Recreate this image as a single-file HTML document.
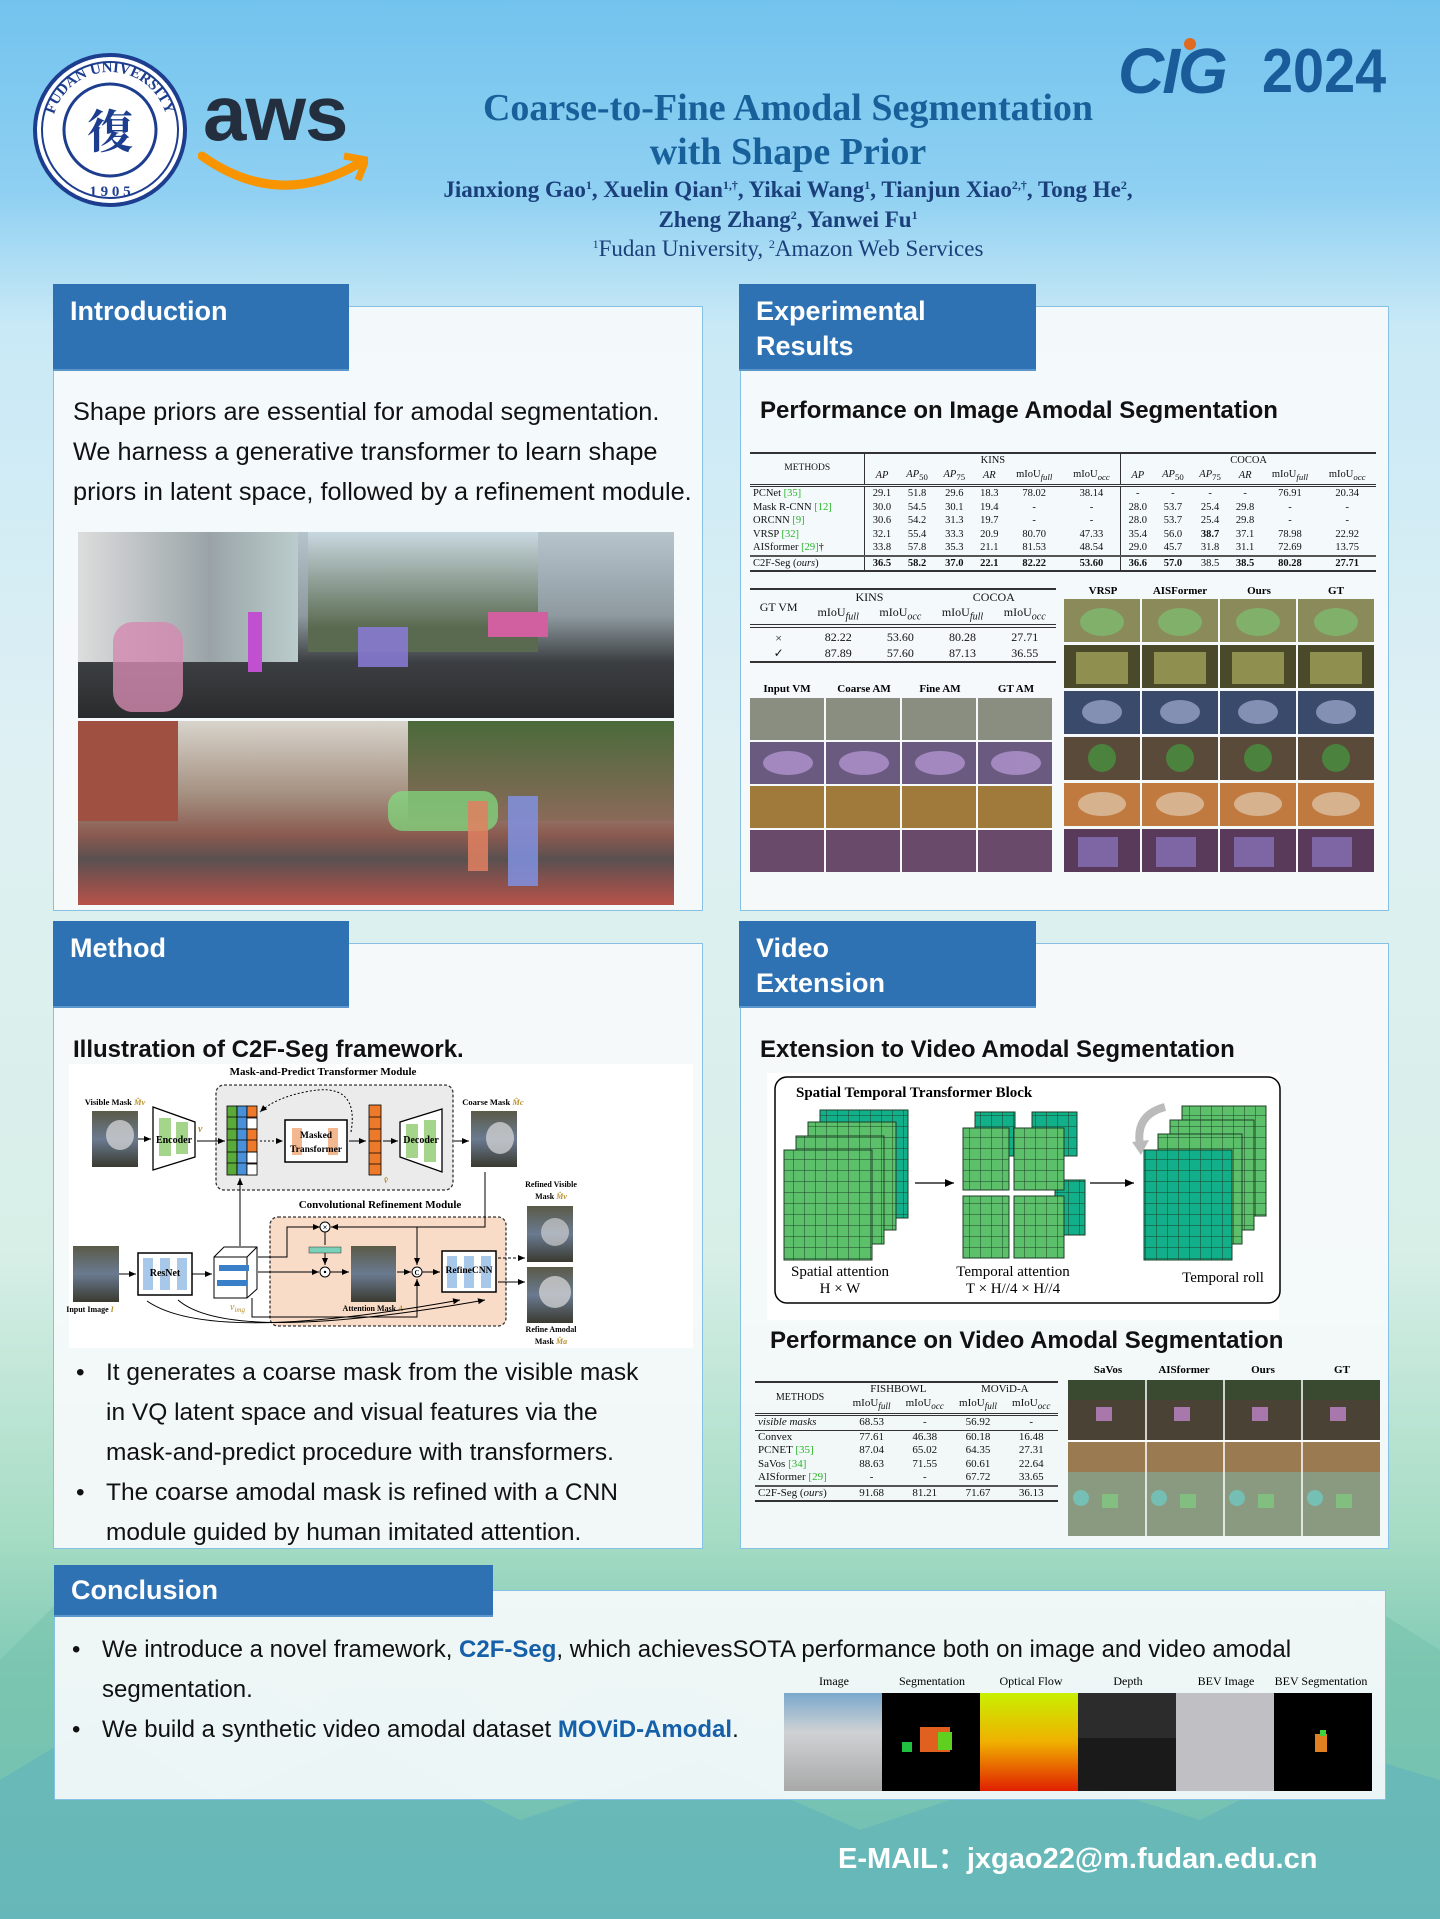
<!DOCTYPE html>
<html><head><meta charset="utf-8"><style>
*{margin:0;padding:0;box-sizing:border-box}
body{width:1440px;height:1919px;position:relative;overflow:hidden;font-family:"Liberation Sans",sans-serif;
background:linear-gradient(180deg,#72c3ee 0%,#8fd0f2 10%,#c9e9f6 17%,#dff0f3 40%,#d8efe8 65%,#a6dcc4 80%,#7cc8b4 88%,#6ab9c2 100%)}
.a{position:absolute}
.panel{position:absolute;background:rgba(246,250,251,0.93);border:1.5px solid #86c0e2}
.tab{position:absolute;background:#2e72b4;color:#fff;font-weight:bold;font-size:27px;padding:10px 17px;line-height:35px;border-bottom:2px solid #5b96cc}
.h2{position:absolute;font-weight:bold;font-size:24px;color:#111}
.body{position:absolute;font-size:24px;color:#111;line-height:40px;white-space:nowrap}
.ser{font-family:"Liberation Serif",serif}
table{border-collapse:collapse;font-family:"Liberation Serif",serif;color:#111}
td,th{font-weight:normal;padding:0 3px;text-align:center;white-space:nowrap}
.g{color:#2ab52a}
.ph{position:absolute}
sup{font-size:12px;line-height:0;vertical-align:8px}
.bl{position:relative;padding-left:30px}
.bl b.d{position:absolute;left:0;top:0;font-weight:normal}
</style></head><body>
<svg class="a" style="left:0;top:1480px" width="1440" height="439">
<path d="M0 180 L60 120 L120 200 L200 140 L300 230 L420 160 L520 260 L640 170 L760 250 L900 180 L1020 240 L1150 150 L1260 220 L1360 120 L1440 170 L1440 439 L0 439Z" fill="#78c3ad" opacity="0.6"/>
<path d="M0 300 L100 240 L220 320 L360 260 L520 340 L700 280 L860 350 L1040 290 L1200 340 L1340 270 L1440 300 L1440 439 L0 439Z" fill="#5fb2bb" opacity="0.6"/>
</svg>
<svg class="a" style="left:32px;top:52px" width="156" height="156">
<defs><path id="cp" d="M78 78 m-58 0 a58 58 0 1 1 116 0"/></defs>
<circle cx="78" cy="78" r="75" fill="#fff" stroke="#1d3d8f" stroke-width="4"/>
<circle cx="78" cy="78" r="68" fill="none" stroke="#1d3d8f" stroke-width="2"/>
<circle cx="78" cy="78" r="46" fill="none" stroke="#1d3d8f" stroke-width="3"/>
<text font-family="Liberation Serif" font-size="15" font-weight="bold" fill="#1d3d8f"><textPath href="#cp" startOffset="50%" text-anchor="middle">FUDAN UNIVERSITY</textPath></text>
<text x="78" y="144" font-family="Liberation Serif" font-size="15" font-weight="bold" fill="#1d3d8f" text-anchor="middle">1 9 0 5</text>
<text x="78" y="96" font-family="Noto Serif CJK SC,serif" font-size="46" font-weight="bold" fill="#1d3d8f" text-anchor="middle">復</text>
</svg>
<div class="a" style="left:203px;top:68px;font-size:78px;font-weight:bold;color:#232f3e;letter-spacing:-1px">aws</div>
<svg class="a" style="left:198px;top:150px" width="170" height="50"><path d="M4 6 Q80 60 160 14" stroke="#f79400" stroke-width="9" fill="none" stroke-linecap="round"/><path d="M146 6 L168 10 L160 30" stroke="#f79400" stroke-width="7" fill="none"/></svg>
<div class="a" style="left:1118px;top:34px;font-size:64px;font-weight:bold;color:#1a5c99;font-style:italic;letter-spacing:-2px">CIG</div>
<div class="a" style="left:1184px;top:38px;width:12px;height:12px;border-radius:6px;background:#e06a20"></div>
<div class="a" style="left:1262px;top:36px;font-size:62px;font-weight:bold;color:#1a5c99;transform:scaleX(0.9);transform-origin:left">2024</div>
<div class="a ser" style="left:380px;width:816px;top:86px;text-align:center;font-size:38px;font-weight:bold;color:#17609a;line-height:44px">Coarse-to-Fine Amodal Segmentation<br>with Shape Prior</div>
<div class="a ser" style="left:340px;width:896px;top:175px;text-align:center;font-size:23px;font-weight:bold;color:#1a3f7a;line-height:30px">Jianxiong Gao<sup>1</sup>, Xuelin Qian<sup>1,†</sup>, Yikai Wang<sup>1</sup>, Tianjun Xiao<sup>2,†</sup>, Tong He<sup>2</sup>,<br>Zheng Zhang<sup>2</sup>, Yanwei Fu<sup>1</sup></div>
<div class="a ser" style="left:340px;width:896px;top:236px;text-align:center;font-size:23px;color:#1a3f7a"><sup>1</sup>Fudan University, <sup>2</sup>Amazon Web Services</div>

<div class="panel" style="left:53px;top:306px;width:650px;height:605px"></div>
<div class="panel" style="left:740px;top:306px;width:649px;height:605px"></div>
<div class="panel" style="left:53px;top:943px;width:650px;height:606px"></div>
<div class="panel" style="left:740px;top:943px;width:649px;height:606px"></div>
<div class="panel" style="left:54px;top:1590px;width:1332px;height:210px"></div>
<div class="tab" style="left:53px;top:284px;width:296px;height:87px">Introduction</div>
<div class="tab" style="left:739px;top:284px;width:297px;height:87px">Experimental<br>Results</div>
<div class="tab" style="left:53px;top:921px;width:296px;height:87px">Method</div>
<div class="tab" style="left:739px;top:921px;width:297px;height:87px">Video<br>Extension</div>
<div class="tab" style="left:54px;top:1565px;width:439px;height:52px;padding-top:8px">Conclusion</div>

<div class="body" style="left:73px;top:392px;font-size:25.3px">Shape priors are essential for amodal segmentation.<br>We harness a generative transformer to learn shape<br>priors in latent space, followed by a refinement module.</div>
<div class="ph" style="left:78px;top:532px;width:596px;height:186px;background:linear-gradient(180deg,#b8c4cc 0%,#8e9aa0 45%,#3c3f42 70%,#2a2b2c 100%)">
<div class="a" style="left:0;top:0;width:220px;height:130px;background:linear-gradient(90deg,#ddd 0%,#9aa4a8 60%,#bcc)"></div>
<div class="a" style="left:230px;top:0;width:230px;height:120px;background:linear-gradient(180deg,#c8d8e0,#5a6a50 80%)"></div>
<div class="a" style="left:35px;top:90px;width:70px;height:90px;background:#d48ab0;opacity:.8;border-radius:20px"></div>
<div class="a" style="left:280px;top:95px;width:50px;height:40px;background:#8a7ad8;opacity:.85"></div>
<div class="a" style="left:170px;top:80px;width:14px;height:60px;background:#c050d0"></div>
<div class="a" style="left:410px;top:80px;width:60px;height:25px;background:#d060a0"></div>
</div>
<div class="ph" style="left:78px;top:721px;width:596px;height:184px;background:linear-gradient(180deg,#d8d4cc 0%,#a49080 40%,#8a5a50 62%,#5a5050 75%,#b8524a 100%)">
<div class="a" style="left:0;top:0;width:100px;height:100px;background:#a05040"></div>
<div class="a" style="left:330px;top:0;width:266px;height:100px;background:linear-gradient(180deg,#4a6a3a,#8a6a5a)"></div>
<div class="a" style="left:310px;top:70px;width:110px;height:40px;background:#80e080;opacity:.7;border-radius:15px"></div>
<div class="a" style="left:430px;top:75px;width:30px;height:90px;background:#8090e0;opacity:.85"></div>
<div class="a" style="left:390px;top:80px;width:20px;height:70px;background:#e08060;opacity:.85"></div>
</div>

<div class="h2" style="left:760px;top:397px">Performance on Image Amodal Segmentation</div>
<table class="a" style="left:750px;top:452px;width:626px;font-size:10.5px;border-top:2px solid #333;border-bottom:2px solid #333;line-height:13.5px">
<tr><th rowspan="2" style="font-size:9.5px;border-right:1px solid #333">METHODS</th><th colspan="6">KINS</th><th colspan="6" style="border-left:1px solid #333">COCOA</th></tr>
<tr style="border-bottom:3px double #333"><td><i>AP</i></td><td><i>AP</i><sub>50</sub></td><td><i>AP</i><sub>75</sub></td><td><i>AR</i></td><td>mIoU<sub><i>full</i></sub></td><td>mIoU<sub><i>occ</i></sub></td><td style="border-left:1px solid #333"><i>AP</i></td><td><i>AP</i><sub>50</sub></td><td><i>AP</i><sub>75</sub></td><td><i>AR</i></td><td>mIoU<sub><i>full</i></sub></td><td>mIoU<sub><i>occ</i></sub></td></tr>
<tr><td style="text-align:left;border-right:1px solid #333">PCNet <span class="g">[35]</span></td><td>29.1</td><td>51.8</td><td>29.6</td><td>18.3</td><td>78.02</td><td>38.14</td><td style="border-left:1px solid #333">-</td><td>-</td><td>-</td><td>-</td><td>76.91</td><td>20.34</td></tr>
<tr><td style="text-align:left;border-right:1px solid #333">Mask R-CNN <span class="g">[12]</span></td><td>30.0</td><td>54.5</td><td>30.1</td><td>19.4</td><td>-</td><td>-</td><td style="border-left:1px solid #333">28.0</td><td>53.7</td><td>25.4</td><td>29.8</td><td>-</td><td>-</td></tr>
<tr><td style="text-align:left;border-right:1px solid #333">ORCNN <span class="g">[9]</span></td><td>30.6</td><td>54.2</td><td>31.3</td><td>19.7</td><td>-</td><td>-</td><td style="border-left:1px solid #333">28.0</td><td>53.7</td><td>25.4</td><td>29.8</td><td>-</td><td>-</td></tr>
<tr><td style="text-align:left;border-right:1px solid #333">VRSP <span class="g">[32]</span></td><td>32.1</td><td>55.4</td><td>33.3</td><td>20.9</td><td>80.70</td><td>47.33</td><td style="border-left:1px solid #333">35.4</td><td>56.0</td><td><b>38.7</b></td><td>37.1</td><td>78.98</td><td>22.92</td></tr>
<tr style="border-bottom:2px solid #555"><td style="text-align:left;border-right:1px solid #333">AISformer <span class="g">[29]</span>†</td><td>33.8</td><td>57.8</td><td>35.3</td><td>21.1</td><td>81.53</td><td>48.54</td><td style="border-left:1px solid #333">29.0</td><td>45.7</td><td>31.8</td><td>31.1</td><td>72.69</td><td>13.75</td></tr>
<tr style="font-weight:bold"><td style="text-align:left;border-right:1px solid #333;font-weight:normal">C2F-Seg (<i>ours</i>)</td><td><b>36.5</b></td><td><b>58.2</b></td><td><b>37.0</b></td><td><b>22.1</b></td><td><b>82.22</b></td><td><b>53.60</b></td><td style="border-left:1px solid #333"><b>36.6</b></td><td><b>57.0</b></td><td>38.5</td><td><b>38.5</b></td><td><b>80.28</b></td><td><b>27.71</b></td></tr>
</table>
<table class="a" style="left:750px;top:588px;width:306px;font-size:12px;border-top:2px solid #333;border-bottom:2px solid #333;line-height:15px">
<tr><th rowspan="2">GT VM</th><th colspan="2">KINS</th><th colspan="2">COCOA</th></tr>
<tr style="border-bottom:4px double #333"><td>mIoU<sub><i>full</i></sub></td><td>mIoU<sub><i>occ</i></sub></td><td>mIoU<sub><i>full</i></sub></td><td>mIoU<sub><i>occ</i></sub></td></tr>
<tr><td style="padding-top:3px">×</td><td>82.22</td><td>53.60</td><td>80.28</td><td>27.71</td></tr>
<tr style="font-weight:bold"><td>✓</td><td>87.89</td><td>57.60</td><td>87.13</td><td>36.55</td></tr>
</table>
<svg class="a" style="left:748px;top:680px" width="310" height="194">
<g font-family="Liberation Serif" font-size="11" font-weight="bold" text-anchor="middle"><text x="39" y="12">Input VM</text><text x="116" y="12">Coarse AM</text><text x="192" y="12">Fine AM</text><text x="268" y="12">GT AM</text></g>
<g>
<rect x="2" y="18" width="74" height="42" fill="#8a8e80"/><rect x="78" y="18" width="74" height="42" fill="#8a8e80"/><rect x="154" y="18" width="74" height="42" fill="#8a8e80"/><rect x="230" y="18" width="74" height="42" fill="#8a8e80"/>
<rect x="2" y="62" width="74" height="42" fill="#6a5a80"/><rect x="78" y="62" width="74" height="42" fill="#6a5a80"/><rect x="154" y="62" width="74" height="42" fill="#6a5a80"/><rect x="230" y="62" width="74" height="42" fill="#6a5a80"/>
<rect x="2" y="106" width="74" height="42" fill="#a07a3a"/><rect x="78" y="106" width="74" height="42" fill="#a07a3a"/><rect x="154" y="106" width="74" height="42" fill="#a07a3a"/><rect x="230" y="106" width="74" height="42" fill="#a07a3a"/>
<rect x="2" y="150" width="74" height="42" fill="#6a4a6a"/><rect x="78" y="150" width="74" height="42" fill="#6a4a6a"/><rect x="154" y="150" width="74" height="42" fill="#6a4a6a"/><rect x="230" y="150" width="74" height="42" fill="#6a4a6a"/></g>
<g fill="#c8a8e8" opacity=".6"><ellipse cx="40" cy="83" rx="25" ry="12"/><ellipse cx="116" cy="83" rx="25" ry="12"/><ellipse cx="192" cy="83" rx="25" ry="12"/><ellipse cx="268" cy="83" rx="25" ry="12"/></g>
</svg>
<svg class="a" style="left:1064px;top:582px" width="312" height="294">
<g font-family="Liberation Serif" font-size="11" font-weight="bold" text-anchor="middle"><text x="39" y="12">VRSP</text><text x="116" y="12">AISFormer</text><text x="195" y="12">Ours</text><text x="272" y="12">GT</text></g>
<g>
<rect x="0" y="17" width="76" height="43" fill="#8a8a5a"/><rect x="78" y="17" width="76" height="43" fill="#8a8a5a"/><rect x="156" y="17" width="76" height="43" fill="#8a8a5a"/><rect x="234" y="17" width="76" height="43" fill="#8a8a5a"/>
<rect x="0" y="63" width="76" height="43" fill="#4a4a2a"/><rect x="78" y="63" width="76" height="43" fill="#4a4a2a"/><rect x="156" y="63" width="76" height="43" fill="#4a4a2a"/><rect x="234" y="63" width="76" height="43" fill="#4a4a2a"/>
<rect x="0" y="109" width="76" height="43" fill="#3a4a6a"/><rect x="78" y="109" width="76" height="43" fill="#3a4a6a"/><rect x="156" y="109" width="76" height="43" fill="#3a4a6a"/><rect x="234" y="109" width="76" height="43" fill="#3a4a6a"/>
<rect x="0" y="155" width="76" height="43" fill="#5a4a3a"/><rect x="78" y="155" width="76" height="43" fill="#5a4a3a"/><rect x="156" y="155" width="76" height="43" fill="#5a4a3a"/><rect x="234" y="155" width="76" height="43" fill="#5a4a3a"/>
<rect x="0" y="201" width="76" height="43" fill="#c07a40"/><rect x="78" y="201" width="76" height="43" fill="#c07a40"/><rect x="156" y="201" width="76" height="43" fill="#c07a40"/><rect x="234" y="201" width="76" height="43" fill="#c07a40"/>
<rect x="0" y="247" width="76" height="43" fill="#5a3a5a"/><rect x="78" y="247" width="76" height="43" fill="#5a3a5a"/><rect x="156" y="247" width="76" height="43" fill="#5a3a5a"/><rect x="234" y="247" width="76" height="43" fill="#5a3a5a"/></g>
<g opacity=".55"><ellipse cx="38" cy="40" rx="22" ry="14" fill="#7ad07a"/><ellipse cx="116" cy="40" rx="22" ry="14" fill="#7ad07a"/><ellipse cx="194" cy="40" rx="22" ry="14" fill="#7ad07a"/><ellipse cx="272" cy="40" rx="22" ry="14" fill="#7ad07a"/>
<rect x="12" y="70" width="52" height="32" fill="#c8c870"/><rect x="90" y="70" width="52" height="32" fill="#c8c870"/><rect x="168" y="70" width="52" height="32" fill="#c8c870"/><rect x="246" y="70" width="52" height="32" fill="#c8c870"/>
<ellipse cx="38" cy="130" rx="20" ry="12" fill="#c0c8f0"/><ellipse cx="116" cy="130" rx="20" ry="12" fill="#c0c8f0"/><ellipse cx="194" cy="130" rx="20" ry="12" fill="#c0c8f0"/><ellipse cx="272" cy="130" rx="20" ry="12" fill="#c0c8f0"/>
<circle cx="38" cy="176" r="14" fill="#40b040"/><circle cx="116" cy="176" r="14" fill="#40b040"/><circle cx="194" cy="176" r="14" fill="#40b040"/><circle cx="272" cy="176" r="14" fill="#40b040"/>
<ellipse cx="38" cy="222" rx="24" ry="12" fill="#e8e0d0"/><ellipse cx="116" cy="222" rx="24" ry="12" fill="#e8e0d0"/><ellipse cx="194" cy="222" rx="24" ry="12" fill="#e8e0d0"/><ellipse cx="272" cy="222" rx="24" ry="12" fill="#e8e0d0"/>
<rect x="14" y="255" width="40" height="30" fill="#9a8ae0"/><rect x="92" y="255" width="40" height="30" fill="#9a8ae0"/><rect x="170" y="255" width="40" height="30" fill="#9a8ae0"/><rect x="248" y="255" width="40" height="30" fill="#9a8ae0"/></g>
</svg>

<div class="h2" style="left:73px;top:1036px">Illustration of C2F-Seg framework.</div>
<svg class="a" style="left:60px;top:1060px" width="640" height="290" font-family="Liberation Serif" font-weight="bold">
<defs><marker id="ar" markerWidth="8" markerHeight="8" refX="7" refY="4" orient="auto"><path d="M0 1 L7 4 L0 7Z" fill="#000"/></marker>
<linearGradient id="ph" x1="0" y1="0" x2="0" y2="1"><stop offset="0" stop-color="#5a5a48"/><stop offset=".5" stop-color="#6a7a90"/><stop offset="1" stop-color="#3a3a30"/></linearGradient></defs>
<rect x="9" y="4" width="624" height="284" fill="#fff"/>
<text x="263" y="15" font-size="11" text-anchor="middle">Mask-and-Predict Transformer Module</text>
<rect x="156" y="25" width="237" height="105" rx="8" fill="#ebebeb" stroke="#333" stroke-dasharray="3 2" stroke-width="1.3"/>
<text x="55" y="45" font-size="8.5" text-anchor="middle">Visible Mask <tspan fill="#b89030" font-style="italic">M̂v</tspan></text>
<rect x="32" y="51" width="46" height="56" fill="url(#ph)"/><ellipse cx="60" cy="75" rx="14" ry="15" fill="#ddd" opacity=".7"/>
<path d="M93 47 L135 62 L135 97 L93 110Z" fill="#fff" stroke="#000" stroke-width="1.3"/>
<rect x="99" y="58" width="12" height="38" fill="#a5d58a"/><rect x="116" y="62" width="12" height="32" fill="#a5d58a"/>
<text x="114" y="83" font-size="10" text-anchor="middle">Encoder</text>
<text x="138" y="72" font-size="10" font-style="italic" fill="#b89030">v</text>
<line x1="78" y1="79" x2="91" y2="79" stroke="#000" marker-end="url(#ar)"/>
<line x1="137" y1="81" x2="165" y2="81" stroke="#000" marker-end="url(#ar)"/>
<g stroke="#000" stroke-width=".8"><rect x="167" y="46" width="10" height="69" fill="#5aaa3a"/><rect x="177" y="46" width="10" height="69" fill="#4a90d8"/><rect x="187" y="46" width="10" height="69" fill="#ec7a2a"/>
<rect x="187" y="58" width="10" height="11" fill="#fff"/><rect x="187" y="92" width="10" height="11" fill="#fff"/><rect x="187" y="104" width="10" height="11" fill="#fff"/>
<path d="M167 57 H197 M167 69 H197 M167 80 H197 M167 92 H197 M167 103 H197" fill="none"/></g>
<line x1="200" y1="81" x2="223" y2="81" stroke="#000" stroke-dasharray="2 2" marker-end="url(#ar)"/>
<rect x="225" y="60" width="62" height="42" fill="#fff" stroke="#000" stroke-width="1.5"/>
<rect x="232" y="68" width="10" height="27" fill="#f4b890"/><rect x="268" y="68" width="10" height="27" fill="#f4b890"/>
<text x="256" y="78" font-size="9.5" text-anchor="middle">Masked</text><text x="256" y="92" font-size="9.5" text-anchor="middle">Transformer</text>
<path d="M291 72 Q300 20 245 32 Q215 38 200 52" fill="none" stroke="#000" stroke-dasharray="2 2" marker-end="url(#ar)"/>
<line x1="289" y1="81" x2="306" y2="81" stroke="#000" marker-end="url(#ar)"/>
<g stroke="#000" stroke-width=".8"><rect x="309" y="45" width="12" height="70" fill="#ec7a2a"/><path d="M309 57 H321 M309 69 H321 M309 81 H321 M309 93 H321 M309 104 H321"/></g>
<text x="324" y="123" font-size="9" fill="#b89030" font-style="italic">v̂</text>
<line x1="323" y1="81" x2="338" y2="81" stroke="#000" marker-end="url(#ar)"/>
<path d="M340 62 L382 49 L382 112 L340 97Z" fill="#fff" stroke="#000" stroke-width="1.3"/>
<rect x="346" y="64" width="12" height="34" fill="#a5d58a"/><rect x="364" y="60" width="12" height="42" fill="#a5d58a"/>
<text x="361" y="83" font-size="10" text-anchor="middle">Decoder</text>
<line x1="394" y1="81" x2="409" y2="81" stroke="#000" marker-end="url(#ar)"/>
<text x="433" y="45" font-size="8.5" text-anchor="middle">Coarse Mask <tspan fill="#b89030" font-style="italic">M̂c</tspan></text>
<rect x="411" y="51" width="46" height="56" fill="url(#ph)"/><ellipse cx="440" cy="78" rx="14" ry="16" fill="#ddd" opacity=".7"/>
<text x="320" y="148" font-size="11" text-anchor="middle">Convolutional Refinement Module</text>
<rect x="210" y="157" width="236" height="109" rx="8" fill="#f9dcc8" stroke="#333" stroke-dasharray="3 2" stroke-width="1.3"/>
<rect x="13" y="186" width="46" height="56" fill="url(#ph)"/>
<text x="30" y="252" font-size="8" text-anchor="middle">Input Image <tspan fill="#b89030" font-style="italic">I</tspan></text>
<line x1="59" y1="214" x2="76" y2="214" stroke="#000" marker-end="url(#ar)"/>
<rect x="78" y="193" width="54" height="42" fill="#fff" stroke="#000" stroke-width="1.5"/>
<rect x="83" y="198" width="10" height="32" fill="#a8c8ea"/><rect x="100" y="198" width="10" height="32" fill="#a8c8ea"/><rect x="117" y="198" width="10" height="32" fill="#a8c8ea"/>
<text x="105" y="216" font-size="10" text-anchor="middle">ResNet</text>
<line x1="132" y1="214" x2="152" y2="214" stroke="#000" marker-end="url(#ar)"/>
<path d="M154 197 L164 187 L197 187 L197 229 L187 238 L154 238Z M154 197 H187 V238 M187 197 L197 187" fill="#fff" stroke="#000"/>
<rect x="159" y="205" width="30" height="6" fill="#3a80c8"/><rect x="157" y="220" width="30" height="6" fill="#3a80c8"/>
<text x="170" y="250" font-size="10" fill="#b89030" font-style="italic" font-weight="normal">v<tspan font-size="7" dy="2">img</tspan></text>
<line x1="180" y1="186" x2="180" y2="118" stroke="#000" marker-end="url(#ar)"/>
<polyline points="198,197 227,197 227,167 260,167" fill="none" stroke="#000" marker-end="url(#ar)"/>
<polyline points="425,112 425,167 271,167" fill="none" stroke="#000" marker-end="url(#ar)"/>
<circle cx="265" cy="167" r="5" fill="#fff" stroke="#000"/><text x="265" y="170" font-size="8" text-anchor="middle">×</text>
<rect x="249" y="187" width="32" height="6" fill="#7ad0b8" stroke="#333" stroke-width=".5"/>
<line x1="265" y1="172" x2="265" y2="185" stroke="#000"/><line x1="265" y1="193" x2="265" y2="205" stroke="#000" marker-end="url(#ar)"/>
<line x1="198" y1="212" x2="259" y2="212" stroke="#000" marker-end="url(#ar)"/>
<circle cx="265" cy="212" r="5" fill="#fff" stroke="#000"/><circle cx="265" cy="212" r="1.2"/>
<line x1="270" y1="212" x2="289" y2="212" stroke="#000" marker-end="url(#ar)"/>
<rect x="291" y="186" width="45" height="56" fill="url(#ph)"/>
<text x="313" y="251" font-size="8" text-anchor="middle">Attention Mask <tspan fill="#b89030" font-style="italic">A</tspan></text>
<line x1="337" y1="212" x2="351" y2="212" stroke="#000" marker-end="url(#ar)"/>
<line x1="357" y1="167" x2="357" y2="205" stroke="#000" marker-end="url(#ar)"/>
<circle cx="357" cy="212" r="5" fill="#fff" stroke="#000"/><text x="357" y="215" font-size="7" text-anchor="middle">C</text>
<polyline points="192,238 192,257 357,257 357,219" fill="none" stroke="#000" marker-end="url(#ar)"/>
<line x1="362" y1="212" x2="380" y2="212" stroke="#000" marker-end="url(#ar)"/>
<rect x="382" y="191" width="54" height="41" fill="#fff" stroke="#000" stroke-width="1.5"/>
<rect x="387" y="196" width="10" height="32" fill="#a8c8ea"/><rect x="404" y="196" width="10" height="32" fill="#a8c8ea"/><rect x="421" y="196" width="10" height="32" fill="#a8c8ea"/>
<text x="409" y="213" font-size="9.5" text-anchor="middle">RefineCNN</text>
<path d="M87 241 Q150 285 400 240" fill="none" stroke="#000" marker-end="url(#ar)"/>
<path d="M118 240 Q170 285 425 240" fill="none" stroke="#000" marker-end="url(#ar)"/>
<line x1="438" y1="198" x2="465" y2="198" stroke="#000" stroke-dasharray="3 2" marker-end="url(#ar)"/>
<line x1="438" y1="222" x2="465" y2="222" stroke="#000" marker-end="url(#ar)"/>
<text x="491" y="127" font-size="8" text-anchor="middle">Refined Visible</text><text x="491" y="139" font-size="8" text-anchor="middle">Mask <tspan fill="#b89030" font-style="italic">M̂v</tspan></text>
<rect x="467" y="146" width="46" height="56" fill="url(#ph)"/><ellipse cx="495" cy="172" rx="14" ry="14" fill="#ddd" opacity=".6"/>
<rect x="467" y="207" width="46" height="56" fill="url(#ph)"/><ellipse cx="495" cy="232" rx="16" ry="16" fill="#ddd" opacity=".7"/>
<text x="491" y="272" font-size="8" text-anchor="middle">Refine Amodal</text><text x="491" y="284" font-size="8" text-anchor="middle">Mask <tspan fill="#b89030" font-style="italic">M̂a</tspan></text>
</svg>
<div class="body" style="left:76px;top:1353px;font-size:24.5px">
<div class="bl"><b class="d">•</b>It generates a coarse mask from the visible mask<br>in VQ latent space and visual features via the<br>mask-and-predict procedure with transformers.</div>
<div class="bl"><b class="d">•</b>The coarse amodal mask is refined with a CNN<br>module guided by human imitated attention.</div></div>

<div class="h2" style="left:760px;top:1036px">Extension to Video Amodal Segmentation</div>
<svg class="a" style="left:760px;top:1060px" width="600" height="260" font-family="Liberation Serif">
<defs><pattern id="gp" width="11" height="11" patternUnits="userSpaceOnUse"><rect width="11" height="11" fill="#5cc06a"/><path d="M0 0 H11 M0 0 V11" stroke="#1e3e26" stroke-width="1"/></pattern>
<pattern id="tp" width="11" height="11" patternUnits="userSpaceOnUse"><rect width="11" height="11" fill="#12b08a"/><path d="M0 0 H11 M0 0 V11" stroke="#1e3e26" stroke-width="1"/></pattern>
<marker id="ar2" markerWidth="8" markerHeight="8" refX="7" refY="4" orient="auto"><path d="M0 1 L7 4 L0 7Z" fill="#000"/></marker></defs>
<rect x="7" y="13" width="512" height="247" fill="#fff"/>
<rect x="15" y="17" width="505" height="226" rx="12" fill="#fff" stroke="#000" stroke-width="1.5"/>
<text x="36" y="37" font-size="15" font-weight="bold">Spatial Temporal Transformer Block</text>
<g stroke="#1e3e26"><rect x="60" y="50" width="88" height="108" fill="url(#tp)"/><rect x="48" y="62" width="88" height="108" fill="url(#gp)"/><rect x="36" y="76" width="88" height="108" fill="url(#gp)"/><rect x="24" y="90" width="88" height="110" fill="url(#gp)"/>
<rect x="215" y="52" width="40" height="44" fill="url(#tp)"/><rect x="272" y="52" width="45" height="44" fill="url(#tp)"/>
<rect x="295" y="120" width="30" height="55" fill="url(#tp)"/>
<rect x="203" y="68" width="46" height="62" fill="url(#gp)"/><rect x="254" y="68" width="50" height="62" fill="url(#gp)"/>
<rect x="203" y="136" width="46" height="62" fill="url(#gp)"/><rect x="254" y="136" width="50" height="62" fill="url(#gp)"/>
<rect x="422" y="46" width="84" height="110" fill="url(#gp)"/><rect x="410" y="60" width="84" height="110" fill="url(#gp)"/><rect x="398" y="74" width="84" height="110" fill="url(#gp)"/><rect x="384" y="90" width="88" height="110" fill="url(#tp)"/></g>
<line x1="155" y1="123" x2="194" y2="123" stroke="#000" stroke-width="1.3" marker-end="url(#ar2)"/>
<line x1="330" y1="123" x2="374" y2="123" stroke="#000" stroke-width="1.3" marker-end="url(#ar2)"/>
<path d="M405 47 Q375 55 380 85" fill="none" stroke="#bbb" stroke-width="8"/><path d="M372 82 L381 95 L389 80Z" fill="#bbb"/>
<g font-size="15" text-anchor="middle"><text x="80" y="216">Spatial attention</text><text x="80" y="233">H × W</text>
<text x="253" y="216">Temporal attention</text><text x="253" y="233">T × H//4 × H//4</text><text x="463" y="222">Temporal roll</text></g>
</svg>
<div class="h2" style="left:770px;top:1327px">Performance on Video Amodal Segmentation</div>
<table class="a" style="left:755px;top:1381px;width:303px;font-size:11px;border-top:2px solid #333;border-bottom:2px solid #333;line-height:13.5px">
<tr><th rowspan="2" style="font-size:10px">METHODS</th><th colspan="2">FISHBOWL</th><th colspan="2">MOViD-A</th></tr>
<tr style="border-bottom:3px double #333"><td>mIoU<sub><i>full</i></sub></td><td>mIoU<sub><i>occ</i></sub></td><td>mIoU<sub><i>full</i></sub></td><td>mIoU<sub><i>occ</i></sub></td></tr>
<tr style="border-bottom:1px solid #333"><td style="text-align:left"><i>visible masks</i></td><td>68.53</td><td>-</td><td>56.92</td><td>-</td></tr>
<tr><td style="text-align:left">Convex</td><td>77.61</td><td>46.38</td><td>60.18</td><td>16.48</td></tr>
<tr><td style="text-align:left">PCNET <span class="g">[35]</span></td><td>87.04</td><td>65.02</td><td>64.35</td><td>27.31</td></tr>
<tr><td style="text-align:left">SaVos <span class="g">[34]</span></td><td>88.63</td><td>71.55</td><td>60.61</td><td>22.64</td></tr>
<tr style="border-bottom:2px solid #555"><td style="text-align:left">AISformer <span class="g">[29]</span></td><td>-</td><td>-</td><td>67.72</td><td>33.65</td></tr>
<tr style="font-weight:bold"><td style="text-align:left;font-weight:normal">C2F-Seg (<i>ours</i>)</td><td>91.68</td><td>81.21</td><td>71.67</td><td>36.13</td></tr>
</table>
<svg class="a" style="left:1066px;top:1362px" width="314" height="175">
<g font-family="Liberation Serif" font-size="11" font-weight="bold" text-anchor="middle"><text x="42" y="11">SaVos</text><text x="118" y="11">AISformer</text><text x="197" y="11">Ours</text><text x="276" y="11">GT</text></g>
<rect x="2" y="18" width="312" height="60" fill="#4a4234"/><rect x="2" y="18" width="312" height="20" fill="#3a4a30"/>
<rect x="2" y="80" width="312" height="94" fill="#8a9a80"/><rect x="2" y="80" width="312" height="30" fill="#9a7a50"/>
<g stroke="#fff" stroke-width="1.5"><line x1="80" y1="18" x2="80" y2="174"/><line x1="158" y1="18" x2="158" y2="174"/><line x1="236" y1="18" x2="236" y2="174"/><line x1="2" y1="79" x2="314" y2="79"/></g>
<g fill="#d090e0" opacity=".7"><rect x="30" y="45" width="16" height="14"/><rect x="108" y="45" width="16" height="14"/><rect x="186" y="45" width="16" height="14"/><rect x="264" y="45" width="16" height="14"/></g>
<g fill="#70c8c0" opacity=".8"><circle cx="15" cy="136" r="8"/><circle cx="93" cy="136" r="8"/><circle cx="171" cy="136" r="8"/><circle cx="249" cy="136" r="8"/></g>
<g fill="#80c880" opacity=".8"><rect x="36" y="132" width="16" height="14"/><rect x="114" y="132" width="16" height="14"/><rect x="192" y="132" width="16" height="14"/><rect x="270" y="132" width="16" height="14"/></g>
</svg>

<div class="body" style="left:72px;top:1630px;font-size:24px">
<div class="bl"><b class="d">•</b>We introduce a novel framework, <b style="color:#1560a8">C2F-Seg</b>, which achievesSOTA performance both on image and video amodal<br>segmentation.</div>
<div class="bl"><b class="d">•</b>We build a synthetic video amodal dataset <b style="color:#1560a8">MOViD-Amodal</b>.</div></div>
<svg class="a" style="left:780px;top:1672px" width="600" height="122" font-family="Liberation Serif">
<g font-size="12" text-anchor="middle"><text x="54" y="13">Image</text><text x="152" y="13">Segmentation</text><text x="251" y="13">Optical Flow</text><text x="348" y="13">Depth</text><text x="446" y="13">BEV Image</text><text x="541" y="13">BEV Segmentation</text></g>
<defs><linearGradient id="im" x1="0" y1="0" x2="0" y2="1"><stop offset="0" stop-color="#7aa8cc"/><stop offset=".4" stop-color="#cfd2d4"/><stop offset="1" stop-color="#a8a8a8"/></linearGradient>
<linearGradient id="of" x1="0" y1="0" x2="0" y2="1"><stop offset="0" stop-color="#c8f000"/><stop offset=".5" stop-color="#f0b000"/><stop offset="1" stop-color="#e02000"/></linearGradient></defs>
<rect x="4" y="21" width="98" height="98" fill="url(#im)"/>
<rect x="102" y="21" width="98" height="98" fill="#000"/><rect x="140" y="55" width="30" height="25" fill="#e06020"/><rect x="122" y="70" width="10" height="10" fill="#20c040"/><rect x="158" y="60" width="14" height="18" fill="#60d020"/>
<rect x="200" y="21" width="98" height="98" fill="url(#of)"/>
<rect x="298" y="21" width="98" height="98" fill="#1a1a1a"/><rect x="298" y="21" width="98" height="45" fill="#2c2c2c"/>
<rect x="396" y="21" width="98" height="98" fill="#c0c0c4"/>
<rect x="494" y="21" width="98" height="98" fill="#000"/><rect x="535" y="62" width="12" height="18" fill="#e08020"/><rect x="540" y="58" width="6" height="6" fill="#40d040"/>
</svg>
<div class="a" style="left:838px;top:1835px;font-size:29px;font-weight:bold;color:#fff">E-MAIL：jxgao22@m.fudan.edu.cn</div>
</body></html>
